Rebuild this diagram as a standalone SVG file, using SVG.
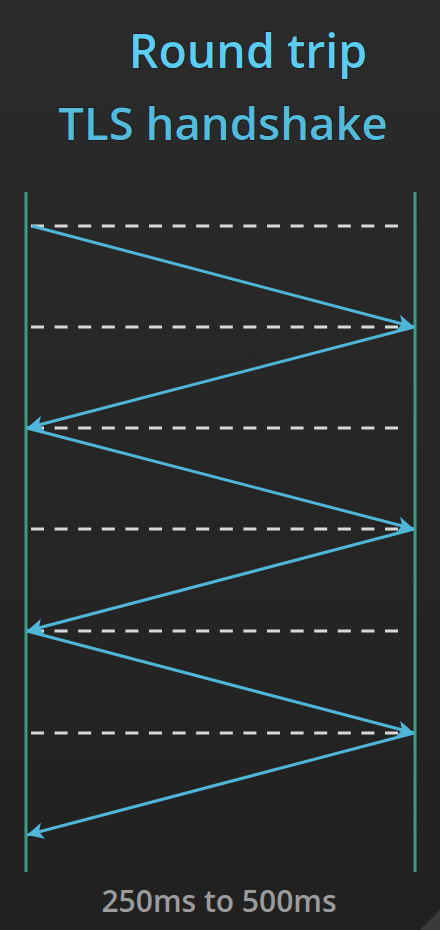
<svg xmlns="http://www.w3.org/2000/svg" width="440" height="930" viewBox="0 0 440 930">
<defs>
<linearGradient id="bg" x1="0" y1="0" x2="0" y2="1">
<stop offset="0" stop-color="#2b2b2b"/>
<stop offset="1" stop-color="#212121"/>
</linearGradient>
<marker id="ah" viewBox="0 0 10 10" refX="10" refY="5" markerWidth="6" markerHeight="5.5" orient="auto" markerUnits="strokeWidth">
<path d="M0,0 L10,5 L0,10 L2.5,5 z" fill="#4fb6da"/>
</marker>
<style>
.title{font-family:"Open Sans","Noto Sans",sans-serif;font-weight:600;text-anchor:middle;stroke:#111;stroke-width:1.2;paint-order:stroke}
.life{stroke:#3a9c82;stroke-width:3}
.dash{stroke:#d8d8d8;stroke-width:3;stroke-dasharray:13 10.6}
.msg{stroke:#4fb6da;stroke-width:3;fill:none;marker-end:url(#ah)}
.foot{font-family:"Open Sans","Noto Sans",sans-serif;font-size:30px;font-weight:600;fill:#9c9c9c;text-anchor:middle}
</style>
</defs>
<rect width="440" height="930" fill="url(#bg)"/>
<polygon points="420,930 440,910 440,930" fill="#3a3a3a"/>
<g id="title">
<text class="title" x="248" y="68" font-size="46.5" fill="#5ccdf0">Round trip</text>
<text class="title" x="223" y="140" font-size="45.5" fill="#55bbdc">TLS handshake</text>
</g>
<g id="client"><line class="life" x1="26" y1="192" x2="26" y2="872"/></g>
<g id="server"><line class="life" x1="415" y1="192" x2="415" y2="872"/></g>
<g id="ticks">
<line class="dash" x1="31" y1="226" x2="402" y2="226"/>
<line class="dash" x1="31" y1="327" x2="402" y2="327"/>
<line class="dash" x1="31" y1="428" x2="402" y2="428"/>
<line class="dash" x1="31" y1="529" x2="402" y2="529"/>
<line class="dash" x1="31" y1="631" x2="402" y2="631"/>
<line class="dash" x1="31" y1="733" x2="402" y2="733"/>
</g>
<g id="connectors">
<line class="msg" x1="32" y1="226" x2="414" y2="327"/>
<line class="msg" x1="414" y1="327" x2="27" y2="428"/>
<line class="msg" x1="27" y1="428" x2="414" y2="529"/>
<line class="msg" x1="414" y1="529" x2="27" y2="631"/>
<line class="msg" x1="27" y1="631" x2="414" y2="733"/>
<line class="msg" x1="414" y1="733" x2="27" y2="835"/>
</g>
<g id="footer"><text class="foot" x="219" y="912">250ms to 500ms</text></g>
</svg>
